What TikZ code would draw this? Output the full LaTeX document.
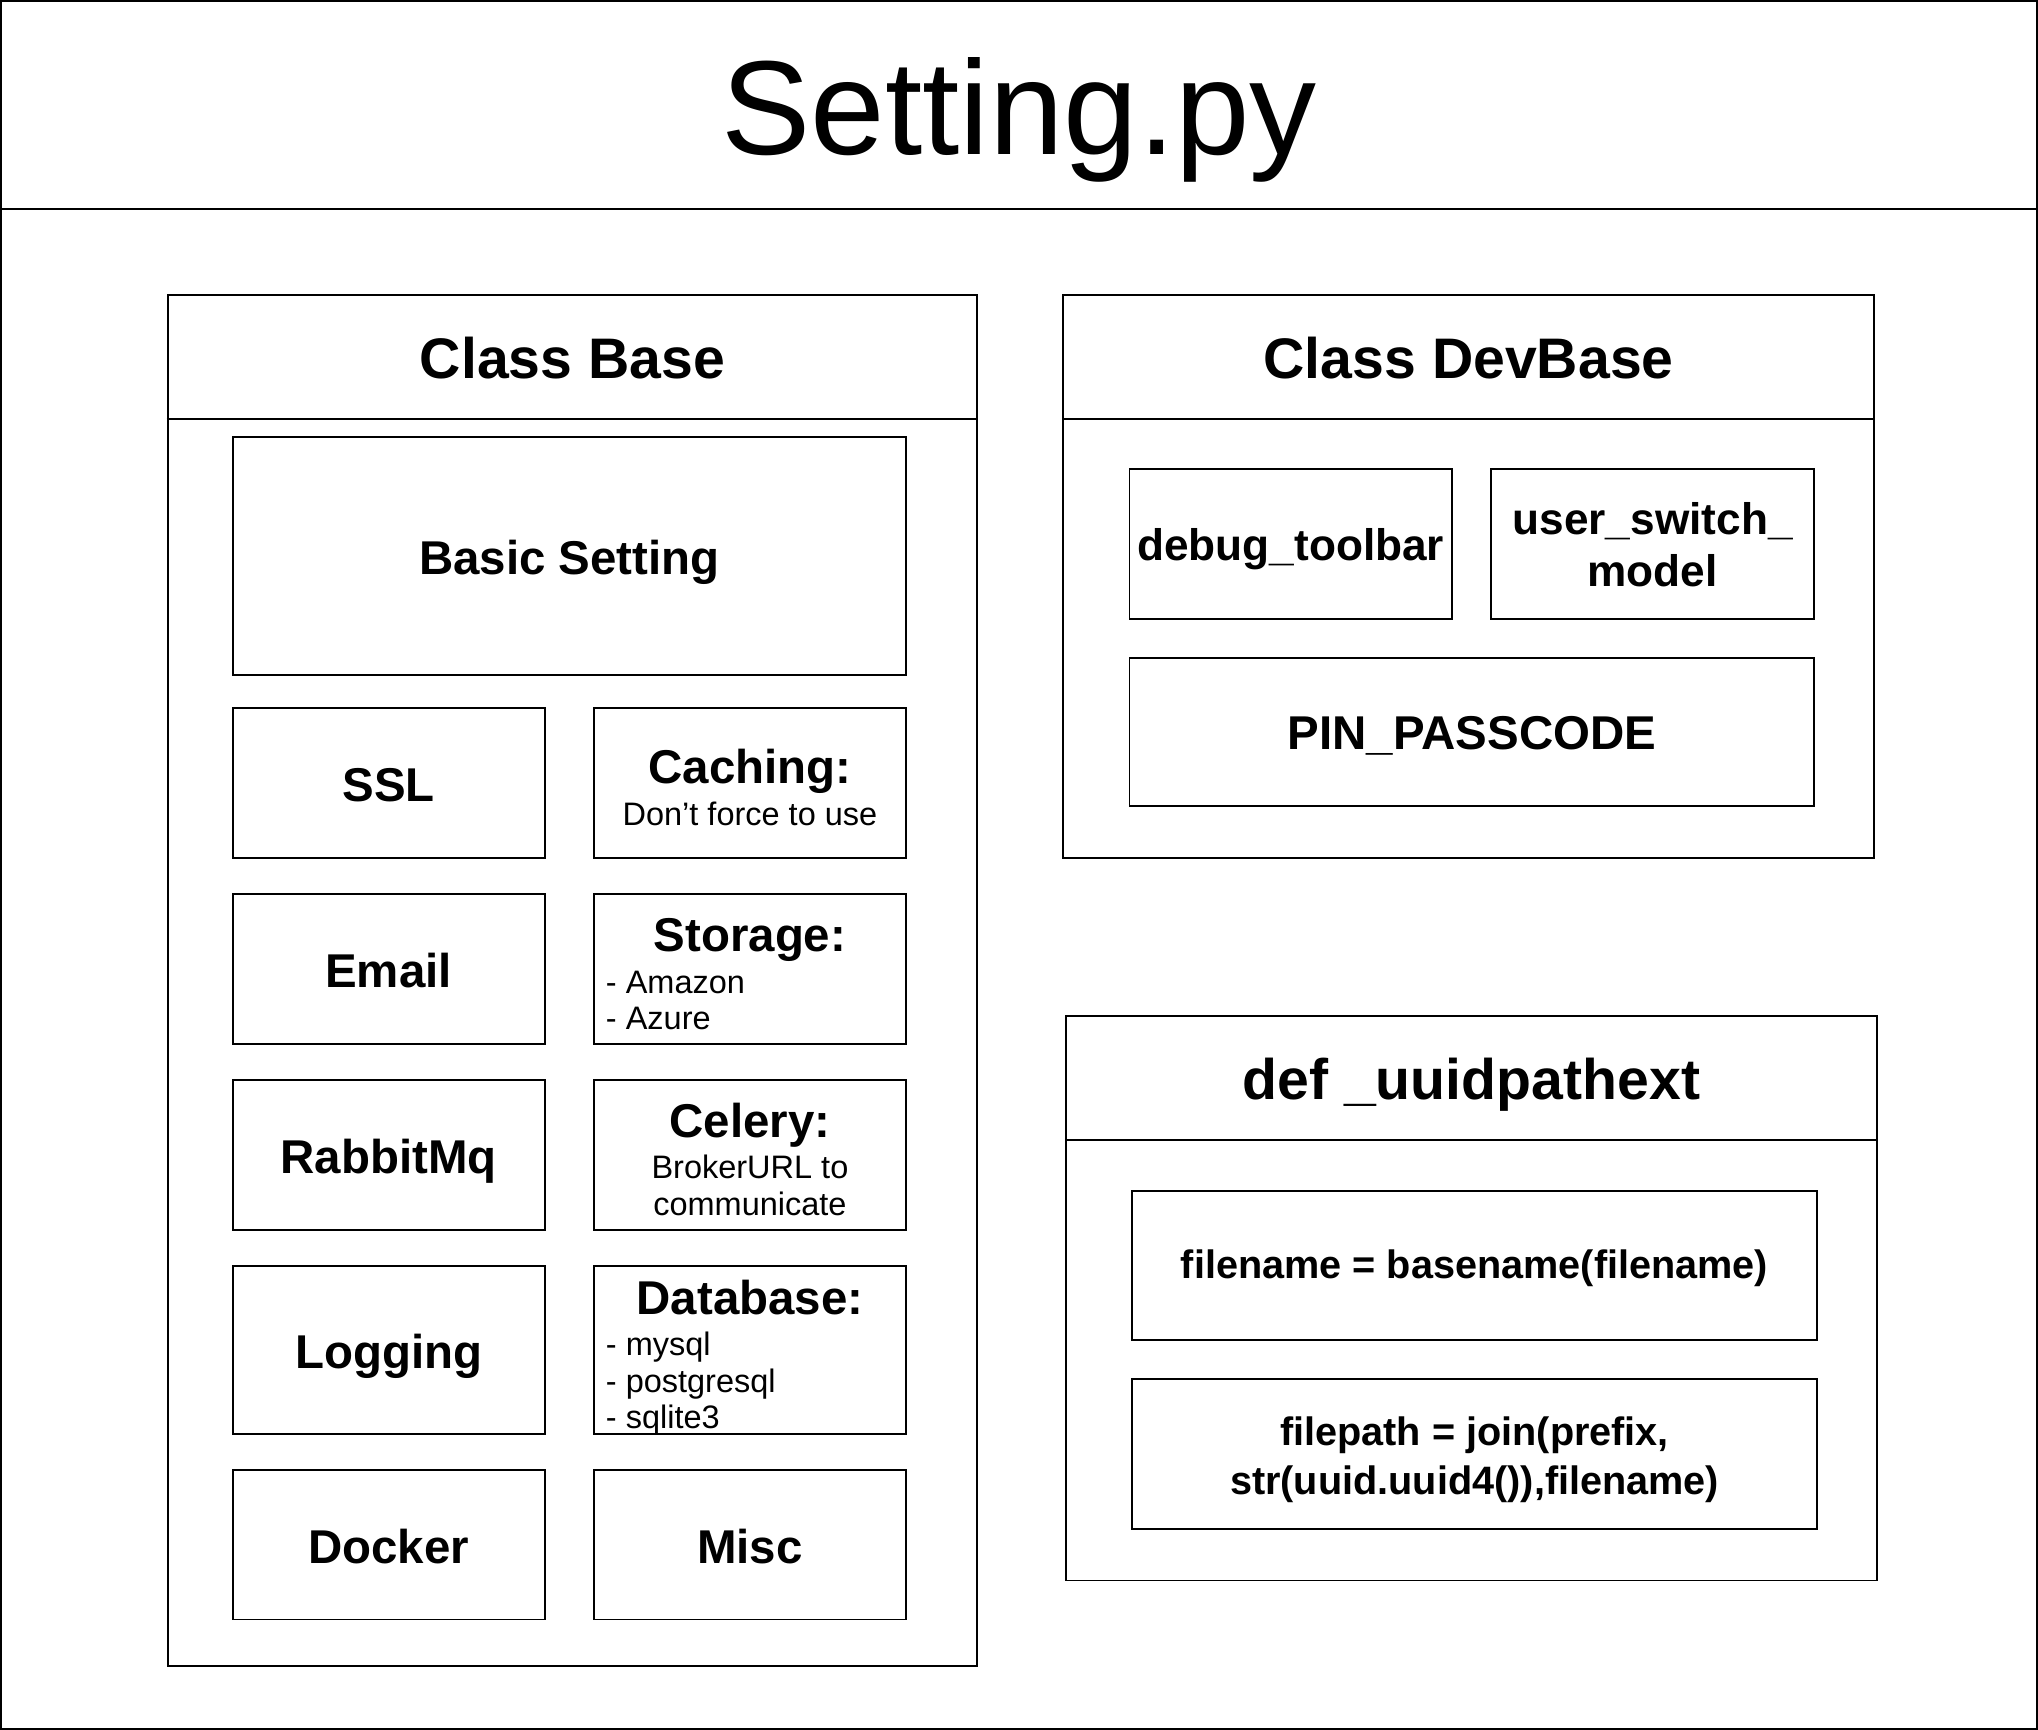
\documentclass[tikz,border=0pt]{standalone}
\usepackage{fontspec}
\setmainfont{Liberation Sans}
\begin{document}
\begin{tikzpicture}[x=1pt,y=-1pt,
  box/.style={draw, line width=1.5pt, inner sep=0pt},
  bigt/.style={anchor=base, font=\fontsize{44}{50}\selectfont\bfseries},
  itm/.style={anchor=base, font=\fontsize{36.5}{42}\selectfont\bfseries},
  dev/.style={anchor=base, font=\fontsize{34}{40}\selectfont\bfseries},
  sml/.style={anchor=base, font=\fontsize{25}{28}\selectfont, inner sep=0pt},
  code/.style={anchor=base, font=\fontsize{30.5}{36}\selectfont\bfseries}]
\useasboundingbox (0,0) rectangle (1568,1331);
% outer frame
\draw[line width=1.5pt] (0.75,0.75) rectangle (1567.25,1330.25);
\draw[line width=1.5pt] (0,161) -- (1568,161);
\node[anchor=base, font=\fontsize{103}{110}\selectfont] (title) at (784,119) {Setting.py};

% Class Base
\node[box, minimum width=623pt, minimum height=1055pt] (base) at (440.5,754.5) {};
\draw[line width=1.5pt] (base.west |- 0,322) -- (base.east |- 0,322);
\node[bigt] (basetitle) at (440.5,291) {Class Base};

\node[box, minimum width=518pt, minimum height=183pt] (basic) at (438,427.5) {};
\node[itm] (basict) at (438,442) {Basic Setting};

\node[box, minimum width=240pt, minimum height=115pt] (ssl) at (299,602.5) {};
\node[itm] (sslt) at (299,617) {SSL};
\node[box, minimum width=240pt, minimum height=115pt] (cach) at (577,602.5) {};
\node[itm] (cacht) at (577,603) {Caching:};
\node[sml] (cachs) at (577,635) {Don’t force to use};

\node[box, minimum width=240pt, minimum height=115pt] (email) at (299,745.5) {};
\node[itm] (emailt) at (299,760) {Email};
\node[box, minimum width=240pt, minimum height=115pt] (stor) at (577,745.5) {};
\node[itm] (stort) at (577,732) {Storage:};
\node[sml, anchor=base west] (stor1) at (466,764) {- Amazon};
\node[sml, anchor=base west] (stor2) at (466,792) {- Azure};

\node[box, minimum width=240pt, minimum height=115pt] (rabbit) at (299,888.5) {};
\node[itm] (rabbitt) at (299,903) {RabbitMq};
\node[box, minimum width=240pt, minimum height=115pt] (cel) at (577,888.5) {};
\node[itm] (celt) at (577,875) {Celery:};
\node[sml] (cel1) at (577,907) {BrokerURL to};
\node[sml] (cel2) at (577,935) {communicate};

\node[box, minimum width=240pt, minimum height=129pt] (log) at (299,1038.5) {};
\node[itm] (logt) at (299,1053) {Logging};
\node[box, minimum width=240pt, minimum height=129pt] (db) at (577,1038.5) {};
\node[itm] (dbt) at (577,1011) {Database:};
\node[sml, anchor=base west] (db1) at (466,1043) {- mysql};
\node[sml, anchor=base west] (db2) at (466,1071) {- postgresql};
\node[sml, anchor=base west] (db3) at (466,1099) {- sqlite3};

\node[box, minimum width=240pt, minimum height=115pt] (dock) at (299,1188.5) {};
\node[itm] (dockt) at (299,1203) {Docker};
\node[box, minimum width=240pt, minimum height=115pt] (misc) at (577,1188.5) {};
\node[itm] (misct) at (577,1203) {Misc};

% Class DevBase
\node[box, minimum width=624pt, minimum height=433pt] (devb) at (1130,443.5) {};
\draw[line width=1.5pt] (devb.west |- 0,322) -- (devb.east |- 0,322);
\node[bigt] (devtitle) at (1130,291) {Class DevBase};
\node[box, minimum width=248pt, minimum height=115pt] (dbg) at (993,418.5) {};
\node[dev] (dbgt) at (993,431) {debug\_toolbar};
\node[box, minimum width=249pt, minimum height=115pt] (usw) at (1271.5,418.5) {};
\node[dev] (usw1) at (1271.5,411) {user\_switch\_};
\node[dev] (usw2) at (1271.5,451) {model};
\node[box, minimum width=527pt, minimum height=114pt] (pin) at (1132.5,563) {};
\node[itm] (pint) at (1132.5,577) {PIN\_PASSCODE};

% def _uuidpathext
\node[box, minimum width=624pt, minimum height=434pt] (uuid) at (1132,999) {};
\draw[line width=1.5pt] (uuid.west |- 0,877) -- (uuid.east |- 0,877);
\node[bigt] (uuidtitle) at (1132,846) {def \_uuidpathext};
\node[box, minimum width=527pt, minimum height=115pt] (fn) at (1134.5,973.5) {};
\node[code] (fnt) at (1134.5,984) {filename = basename(filename)};
\node[box, minimum width=527pt, minimum height=115pt] (fp) at (1134.5,1118.5) {};
\node[code] (fp1) at (1134.5,1112) {filepath = join(prefix,};
\node[code] (fp2) at (1134.5,1150) {str(uuid.uuid4()),filename)};
\end{tikzpicture}
\end{document}
